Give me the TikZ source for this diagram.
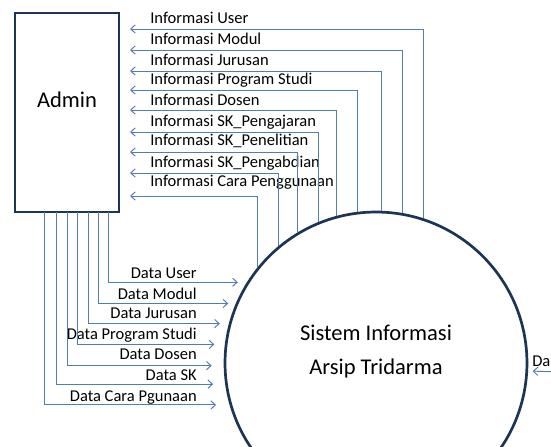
\documentclass[tikz,border=0pt]{standalone}
\usepackage{fontspec}
\setmainfont{Carlito}
\usetikzlibrary{positioning, arrows.meta}
\definecolor{flowblue}{RGB}{84,124,176}
\definecolor{edgenavy}{RGB}{30,52,84}

\begin{document}
\begin{tikzpicture}[
	x=0.666pt, y=-0.666pt,
	entity/.style={rectangle, draw=edgenavy, line width=1.7pt, minimum width=69.3pt, minimum height=132.5pt, inner sep=0pt},
	process/.style={circle, draw=edgenavy, line width=1.8pt, minimum size=201.1pt, inner sep=0pt},
	bigtext/.style={font=\fontsize{15}{22.6}\selectfont, align=center, inner sep=0pt},
	infotext/.style={font=\fontsize{11}{13}\selectfont, inner sep=0pt, anchor=base west},
	datatext/.style={font=\fontsize{11}{13}\selectfont, inner sep=0pt, anchor=base east},
	flow/.style={draw=flowblue, line width=0.65pt, ->},
	>={Straight Barb[length=3pt, width=5.5pt]}
]

\useasboundingbox (0,0) rectangle (551,447);
\clip (0,0) rectangle (551,447);

\node[entity] (admin) at (67,112.5) {};
\node[bigtext] (admin_name) at (67,100) {Admin};
\node[process] (sistem) at (376,363) {};
\node[bigtext] (sistem_name) at (376,352) {Sistem Informasi\\Arsip Tridarma};

% informasi ke admin
\node[infotext] (info_user) at (150,24) {Informasi User};
\node[infotext] (info_modul) at (150,44) {Informasi Modul};
\node[infotext] (info_jurusan) at (150,65) {Informasi Jurusan};
\node[infotext] (info_prodi) at (150,85) {Informasi Program Studi};
\node[infotext] (info_dosen) at (150,105) {Informasi Dosen};
\node[infotext] (info_ajar) at (150,126) {Informasi SK\_Pengajaran};
\node[infotext] (info_teliti) at (150,146) {Informasi SK\_Penelitian};
\node[infotext] (info_abdi) at (150,167) {Informasi SK\_Pengabdian};
\node[infotext] (info_cara) at (150,187) {Informasi Cara Penggunaan};

\coordinate (info_user_end) at (130,29);
\coordinate (info_modul_end) at (130,50);
\coordinate (info_jurusan_end) at (130,71);
\coordinate (info_prodi_end) at (130,90);
\coordinate (info_dosen_end) at (130,110);
\coordinate (info_ajar_end) at (130,132);
\coordinate (info_teliti_end) at (130,152);
\coordinate (info_abdi_end) at (130,173);
\coordinate (info_cara_end) at (130,196);

\draw[flow] (sistem.72.7) |- (info_user_end);
\draw[flow] (sistem.80.9) |- (info_modul_end);
\draw[flow] (sistem.88.1) |- (info_jurusan_end);
\draw[flow] (sistem.97.2) |- (info_prodi_end);
\draw[flow] (sistem.105) |- (info_dosen_end);
\draw[flow] (sistem.112.6) |- (info_ajar_end);
\draw[flow] (sistem.121.5) |- (info_teliti_end);
\draw[flow] (sistem.130) |- (info_abdi_end);
\draw[flow] (sistem.141.4) |- (info_cara_end);

% data dari admin
\node[datatext] (data_user) at (197,278) {Data User};
\node[datatext] (data_modul) at (197,299) {Data Modul};
\node[datatext] (data_jurusan) at (197,319) {Data Jurusan};
\node[datatext] (data_prodi) at (197,340) {Data Program Studi};
\node[datatext] (data_dosen) at (197,360) {Data Dosen};
\node[datatext] (data_sk) at (197,380) {Data SK};
\node[datatext] (data_cara) at (197,401) {Data Cara Pgunaan};

\coordinate (data_user_start) at (108,212);
\coordinate (data_modul_start) at (98,212);
\coordinate (data_jurusan_start) at (88,212);
\coordinate (data_prodi_start) at (77,212);
\coordinate (data_dosen_start) at (67,212);
\coordinate (data_sk_start) at (56,212);
\coordinate (data_cara_start) at (44,212);

\draw[flow, shorten >=6pt] (data_user_start) |- (sistem.148.1);
\draw[flow, shorten >=5pt] (data_modul_start) |- (sistem.157);
\draw[flow, shorten >=6pt] (data_jurusan_start) |- (sistem.165.4);
\draw[flow, shorten >=7pt] (data_prodi_start) |- (sistem.173.2);
\draw[flow, shorten >=8pt] (data_dosen_start) |- (sistem.181);
\draw[flow, shorten >=8pt] (data_sk_start) |- (sistem.188.6);
\draw[flow, shorten >=9pt] (data_cara_start) |- (sistem.196.8);

% masuk dari kanan
\node[infotext] (data_kanan) at (532,366) {Da};
\coordinate (data_kanan_start) at (560,372);
\draw[flow, shorten >=3pt] (data_kanan_start) -- (sistem.-3.4);
\end{tikzpicture}
\end{document}
